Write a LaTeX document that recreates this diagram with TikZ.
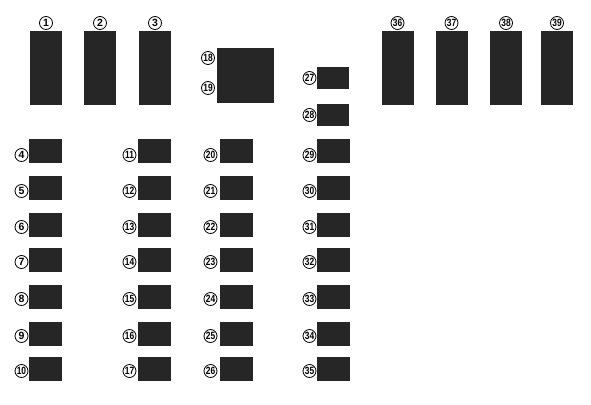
\documentclass[tikz,border=0pt]{standalone}
\usepackage{fontspec}
\setmainfont{Liberation Sans}
\usetikzlibrary{positioning}
\definecolor{fusegray}{HTML}{262626}
\newcommand{\fusenum}[1]{\makebox[0pt]{\ifnum#1>9 \scalebox{0.8}[1]{#1}\else#1\fi}}

\begin{document}
\begin{tikzpicture}[x=1pt, y=-1pt,
  fuse/.style={fill=fusegray, draw=none, inner sep=0pt, minimum width=33pt, minimum height=24pt},
  tallfuse/.style={fuse, minimum width=32pt, minimum height=74pt},
  num/.style={circle, draw, line width=0.8pt, inner sep=0pt, minimum size=13pt, font=\fontsize{10.5}{10.5}\selectfont\bfseries}]
\useasboundingbox (0,0) rectangle (591,404);

% Top row, left
\foreach \i/\x in {1/46,2/100,3/155} {
    \node[tallfuse] (f\i) at (\x,68) {};
    \node[num] (l\i) at (\x,23) {\fusenum{\i}};
}

% Top row, right
\foreach \i/\x in {36/397.5,37/451.5,38/506,39/557} {
    \node[tallfuse] (f\i) at (\x,68) {};
    \node[num] (l\i) at (\x,23) {\fusenum{\i}};
}

% Relay 18/19
\node[fuse, minimum width=57pt, minimum height=55pt] (relay) at (245.5,75.5) {};
\node[num] (l18) at (208,58) {\fusenum{18}};
\node[num] (l19) at (208,88) {\fusenum{19}};

% Small fuses 27, 28
\node[fuse, minimum width=32pt, minimum height=22pt] (f27) at (333,78) {};
\node[num] (l27) at (309.5,78) {\fusenum{27}};
\node[fuse, minimum width=32pt, minimum height=22pt] (f28) at (333,115) {};
\node[num] (l28) at (309.5,115) {\fusenum{28}};

% Columns of small fuses
\foreach \x/\lx/\s in {45.5/21.5/4, 154.5/129.5/11, 236.5/210.5/20, 333/309.5/29} {
    \foreach \r/\y/\ly in {0/151/155, 1/188/191, 2/225/227, 3/260/262, 4/297/299, 5/334/336, 6/369/371} {
        \pgfmathtruncatemacro{\n}{\s+\r}
        \node[fuse] (f\n) at (\x,\y) {};
        \node[num] (l\n) at (\lx,\ly) {\fusenum{\n}};
    }
}
\end{tikzpicture}
\end{document}
